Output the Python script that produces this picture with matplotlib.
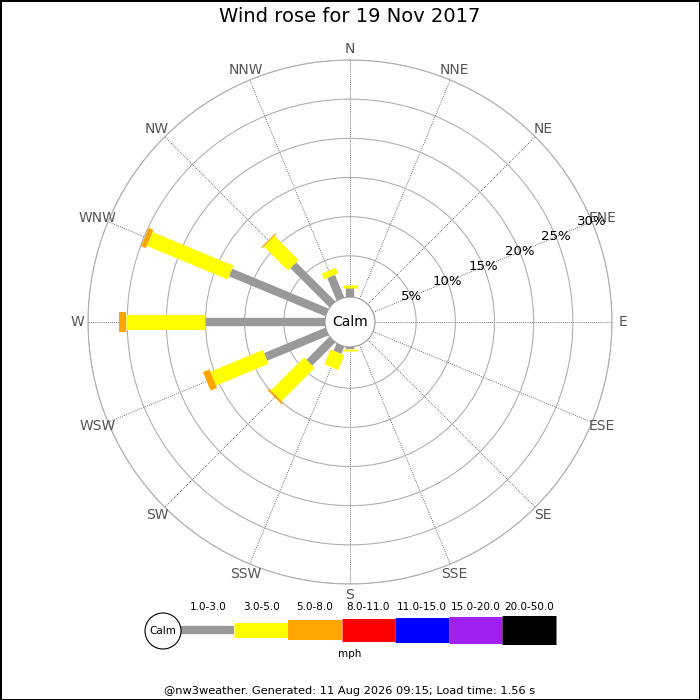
import numpy as np
import matplotlib
matplotlib.use('Agg')
import matplotlib.pyplot as plt
from matplotlib.patches import Circle

# compass points, clockwise from N
directions = ['N', 'NNE', 'NE', 'ENE', 'E', 'ESE', 'SE', 'SSE',
              'S', 'SSW', 'SW', 'WSW', 'W', 'WNW', 'NW', 'NNW']

# percent of time per direction in each speed bin (mph)
pct_1_3 = [0.93, 0, 0, 0, 0, 0, 0, 0, 0.05, 0.75, 3.9, 8.2, 15.0, 13.05, 6.8, 2.85]
pct_3_5 = [0.35, 0, 0, 0, 0, 0, 0, 0, 0.2, 2.05, 6.0, 7.25, 10.1, 11.2, 4.35, 0.8]
pct_5_8 = [0, 0, 0, 0, 0, 0, 0, 0, 0, 0, 0.25, 0.9, 1.0, 0.65, 0.15, 0]

bin_labels = ['1.0-3.0', '3.0-5.0', '5.0-8.0', '8.0-11.0',
              '11.0-15.0', '15.0-20.0', '20.0-50.0']
bin_colors = ['#999999', '#ffff00', '#ffa500', '#ff0000',
              '#0000ff', '#a020f0', '#000000']
bin_widths = [6.0, 10.8, 14.4, 16.5, 18.0, 19.4, 20.9]  # points

ring_pcts = [5, 10, 15, 20, 25, 30]

title = 'Wind rose for 19 Nov 2017'
footer = '@nw3weather. Generated: 11 Aug 2026 09:15; Load time: 1.56 s'

r_centre = -3.447  # value at the very centre (leaves room for calm circle)

fig = plt.figure(figsize=(7, 7), dpi=100)
fig.patch.set_edgecolor('black')
fig.patch.set_linewidth(2)

ax = fig.add_axes([88 / 700, 116 / 700, 524 / 700, 524 / 700], projection='polar')
ax.set_theta_zero_location('N')
ax.set_theta_direction(-1)
ax.set_ylim(r_centre, 30)

angles = np.deg2rad(np.arange(16) * 22.5)
ax.set_xticks(angles)
ax.set_xticklabels([])
ax.set_yticks(ring_pcts)
ax.set_yticklabels([])
ax.xaxis.grid(True, color='#444444', linestyle=(0, (1, 1.5)), linewidth=0.6)
ax.yaxis.grid(True, color='#b0b0b0', linestyle='-', linewidth=0.8)
ax.spines['polar'].set_color('#b0b0b0')
ax.spines['polar'].set_linewidth(0.8)
ax.tick_params(length=0)

# stacked radial bars, constant width like the original
series = [pct_1_3, pct_3_5, pct_5_8]
for th, *vals in zip(angles, *series):
    base = 0.0
    for i, v in enumerate(vals):
        if v <= 0:
            continue
        r0 = r_centre if i == 0 else base
        ax.plot([th, th], [r0, base + v], color=bin_colors[i],
                linewidth=bin_widths[i], solid_capstyle='butt', zorder=3 + i)
        base += v

for th, name in zip(angles, directions):
    ax.text(th, 31.4, name, ha='center', va='center', fontsize=10,
            color='#555555', clip_on=False)

for p in ring_pcts:
    ax.text(np.deg2rad(67.5), p, '%d%%' % p, ha='center', va='center',
            fontsize=9.5, color='black', zorder=8)

calm = Circle((0.5, 0.5), 25 / 524, transform=ax.transAxes, facecolor='white',
              edgecolor='#999999', linewidth=0.8, zorder=10)
ax.add_patch(calm)
ax.text(0.5, 0.5, 'Calm', transform=ax.transAxes, ha='center', va='center',
        fontsize=10, zorder=11)

fig.text(0.5, 1 - 17 / 700, title, ha='center', va='center', fontsize=14)

# legend strip, axes in pixel units
lax = fig.add_axes([140 / 700, 40 / 700, 420 / 700, 60 / 700])
lax.set_xlim(140, 560)
lax.set_ylim(660, 600)
lax.set_aspect('equal')
lax.axis('off')
lax.add_patch(Circle((163, 631), 18, facecolor='white', edgecolor='black', linewidth=0.8, zorder=5))
lax.text(163, 631, 'Calm', ha='center', va='center', fontsize=7.5, zorder=6)
seg = 53.5
x0 = 181
for i, (lab, col, w) in enumerate(zip(bin_labels, bin_colors, bin_widths)):
    xa = x0 + i * seg
    lax.plot([xa, xa + seg], [629.5, 629.5], color=col, linewidth=w, solid_capstyle='butt')
    lax.text(xa + seg / 2, 607, lab, ha='center', va='center', fontsize=7.5)
lax.text(350, 654, 'mph', ha='center', va='center', fontsize=7.5)

fig.text(0.5, 1 - 691 / 700, footer, ha='center', va='center', fontsize=8.2)

fig.savefig('out.png', dpi=100, edgecolor=fig.get_edgecolor())
